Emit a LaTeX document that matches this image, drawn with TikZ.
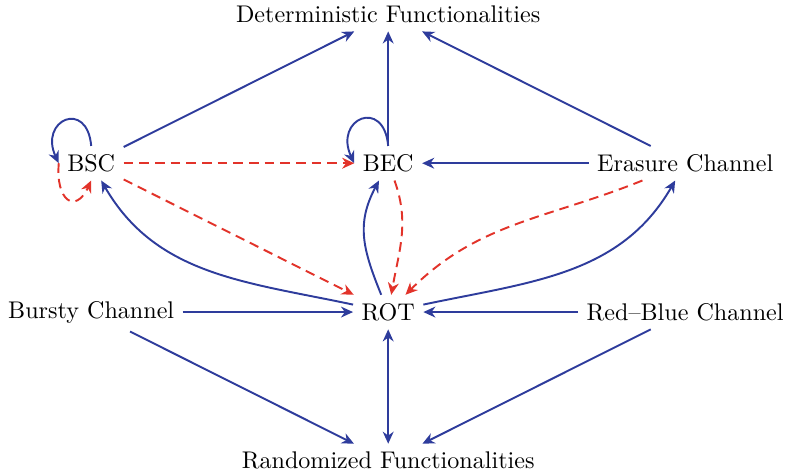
\documentclass[tikz,border=0pt]{standalone}
\usepackage{tikz}
\usetikzlibrary{arrows.meta}
\definecolor{ch-blue}{HTML}{2E3C9C}
\definecolor{ch-red}{HTML}{E2332A}

\begin{document}
\begin{tikzpicture}[>={Stealth[length=5pt, width=4.5pt, inset=1.6pt]},
    real/.style={->, ch-blue, thick},
    ideal/.style={->, ch-red, thick, dash pattern=on 4pt off 2.5pt}]
    \useasboundingbox (-5.66,-2.38) rectangle (5.80,4.55);

    % Functionalities
    \node (det) at (0,4.34) {Deterministic Functionalities};
    \node (rand) at (0,-2.17) {Randomized Functionalities};

    % Channels
    \node (bsc) at (-4.33,2.17) {BSC};
    \node (bec) at (0,2.17) {BEC};
    \node (erasure) at (4.33,2.17) {Erasure Channel};
    \node (bursty) at (-4.33,0) {Bursty Channel};
    \node (rot) at (0,0) {ROT};
    \node (redblue) at (4.33,0) {Red--Blue Channel};

    % Reductions
    \draw[real] (bsc) -- (det);
    \draw[real] (bec) -- (det);
    \draw[real] (erasure) -- (det);
    \draw[real] (erasure) -- (bec);
    \draw[real] (bursty) -- (rot);
    \draw[real] (redblue) -- (rot);
    \draw[real, <->] (rot) -- (rand);
    \draw[real] (bursty) -- (rand);
    \draw[real] (redblue) -- (rand);
    \draw[real] (rot) to[out=168, in=-60] (bsc);
    \draw[real] (rot) to[out=112, in=-118, looseness=1.1] (bec);
    \draw[real] (rot) to[out=12, in=-120] (erasure);
    \draw[real] (bsc.north) to[out=95, in=115, looseness=3.3] (bsc.west);
    \draw[real] (bec.north) to[out=95, in=115, looseness=3.3] (bec.west);

    % Dashed reductions
    \draw[ideal] (bsc.west) to[out=-95, in=-115, looseness=2.6] (bsc.south);
    \draw[ideal] (bsc) -- (bec);
    \draw[ideal] (bsc) -- (rot);
    \draw[ideal] (bec) to[out=-70, in=80] (rot);
    \draw[ideal] (erasure) to[out=-158, in=45] (rot);
\end{tikzpicture}
\end{document}
